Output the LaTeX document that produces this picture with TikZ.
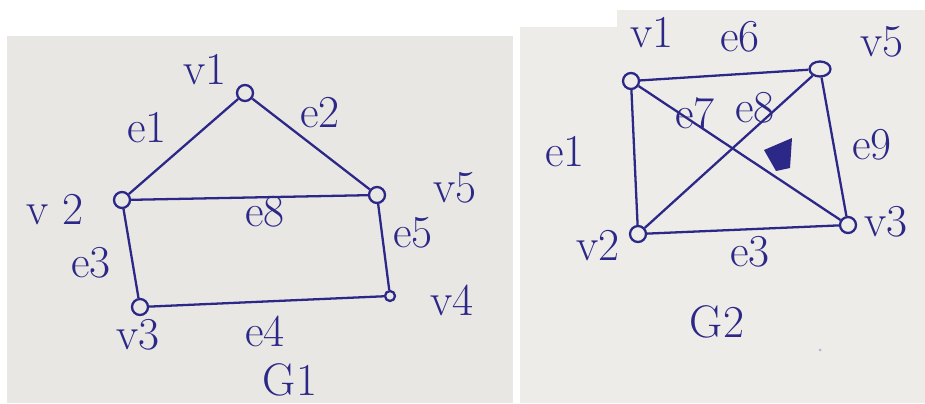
\documentclass[tikz,border=0pt]{standalone}
\usetikzlibrary{positioning,shapes.geometric}
\definecolor{ink}{RGB}{44,40,135}
\definecolor{paperA}{RGB}{233,231,228}
\definecolor{paperB}{RGB}{238,236,232}

\begin{document}
\begin{tikzpicture}[x=0.02cm, y=-0.02cm, every node/.style={font=\fontsize{26}{28}\selectfont, text=ink},
		vert/.style={draw=ink, circle, minimum size=0.32cm, inner sep=0pt, line width=1.3pt},
		link/.style={draw=ink, line width=1.3pt}]
				\useasboundingbox (0,0) rectangle (925,403);
				% the two sheets of paper
				\fill[paperA] (7,36) rectangle (513,403);
				\fill[paperB] (520,27) -- (617,27) -- (617,10) -- (925,10) -- (925,403) -- (520,403) -- cycle;
				% G1
				\node[vert] (a1) at (245,93) {};
				\node[vert] (a2) at (122,200) {};
				\node[vert] (a5) at (377,195) {};
				\node[vert] (a3) at (140,307) {};
				\node[vert, minimum size=0.2cm] (a4) at (390,296) {};
				\draw[link] (a1) -- (a2);
				\draw[link] (a1) -- (a5);
				\draw[link] (a2) -- (a5);
				\draw[link] (a2) -- (a3);
				\draw[link] (a3) -- (a4);
				\draw[link] (a5) -- (a4);
				\node (a1l) at (205,70) {v1};
				\node (a2l) at (55,210) {v 2};
				\node (a3l) at (138,335) {v3};
				\node (a4l) at (452,300) {v4};
				\node (a5l) at (455,188) {v5};
				\node (e1l) at (147,128) {e1};
				\node (e2l) at (320,113) {e2};
				\node (e3l) at (91,263) {e3};
				\node (e4l) at (265,331) {e4};
				\node (e5l) at (413,233) {e5};
				\node (e8l) at (265,212) {e8};
				\node (g1l) at (290,380) {G1};
				% G2
				\node[vert] (b1) at (631,81) {};
				\node[vert, ellipse, minimum width=0.42cm, minimum height=0.3cm] (b5) at (820,69) {};
				\node[vert] (b2) at (638,234) {};
				\node[vert] (b3) at (848,225) {};
				\draw[link] (b1) -- (b5);
				\draw[link] (b1) -- (b2);
				\draw[link] (b2) -- (b3);
				\draw[link] (b5) -- (b3);
				\draw[link] (b1) -- (b3);
				\draw[link] (b2) -- (b5);
				\node (b1l) at (652,33) {v1};
				\node (b5l) at (882,42) {v5};
				\node (b2l) at (598,246) {v2};
				\node (b3l) at (886,222) {v3};
				\node (f6l) at (740,37) {e6};
				\node (f1l) at (565,152) {e1};
				\node (f7l) at (695,113) {e7};
				\node (f8l) at (755,108) {e8};
				\node (f9l) at (872,145) {e9};
				\node (f3l) at (750,252) {e3};
				\node (g2l) at (717,322) {G2};
				\fill[ink] (764,150) -- (792,138) -- (790,168) -- (776,171) -- cycle;
				\fill[ink!35] (820,350) circle (1.5);
			\end{tikzpicture}
\end{document}
